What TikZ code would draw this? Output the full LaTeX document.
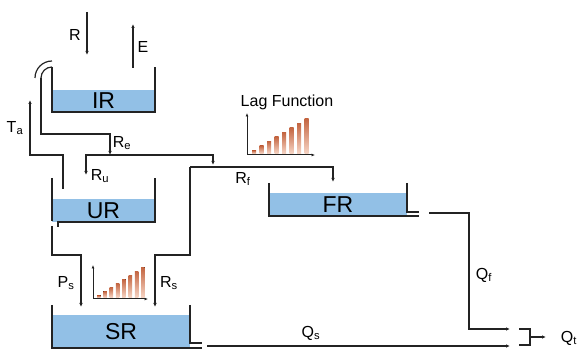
\documentclass[tikz,border=0pt]{standalone}
\usepackage{fontspec}
\setmainfont{Liberation Sans}
\usetikzlibrary{arrows.meta}
\definecolor{waterblue}{RGB}{146,192,230}
\definecolor{barlight}{RGB}{246,212,196}
\definecolor{bardark}{RGB}{196,102,66}
\definecolor{pipegray}{RGB}{35,35,35}

\begin{document}
\begin{tikzpicture}[x=1pt, y=-1pt,
  wall/.style={draw=pipegray, line width=2pt},
  water/.style={rectangle, fill=waterblue, draw=none, inner sep=0pt, font=\fontsize{23}{23}\selectfont},
  pipe/.style={draw=pipegray, line width=1.2pt},
  flow/.style={pipe, -{Latex[length=4pt,width=3.5pt]}},
  axis/.style={draw=pipegray, line width=1pt, {Latex[length=3.5pt,width=3pt]}-{Latex[length=3.5pt,width=3pt]}},
  lbl/.style={font=\fontsize{16}{16}\selectfont, inner sep=1pt},
  bar/.style={top color=bardark, bottom color=barlight}
]
\useasboundingbox (0,0) rectangle (581,352);

% reservoirs
\node[water, minimum width=103pt, minimum height=22pt] (IR) at (103.5,101) {IR};
\node[water, minimum width=103pt, minimum height=23pt] (UR) at (103.5,210.5) {UR};
\node[water, minimum width=138pt, minimum height=33pt] (SR) at (121,331.5) {SR};
\node[water, minimum width=138pt, minimum height=23pt] (FR) at (338,204.5) {FR};

\draw[wall] (52,67) |- (155,112) -- (155,67);
\draw[wall] (52,178) -- (52,221);
\draw[wall] (58,227) -- (58,222) -- (155,222) -- (155,178);
\draw[wall] (52,305) |- (202,348);
\draw[wall] (190,305) |- (202,343);
\draw[wall] (269,183) |- (419,216);
\draw[wall] (407,183) |- (419,212);

% overflow bend
\draw[pipe] (35,78) arc[start angle=180, end angle=270, radius=17];
\draw[pipe] (41,78) arc[start angle=180, end angle=270, radius=11];

% named points
\coordinate (rain) at (87,12);
\coordinate (rainin) at (87,55);
\coordinate (evap) at (133,68);
\coordinate (evapout) at (133,24);
\coordinate (spill) at (41,78);
\coordinate (resplit) at (110,155);
\coordinate (tatop) at (30,100);
\coordinate (tabase) at (63,189);
\coordinate (ruin) at (86,175);
\coordinate (rfjoin) at (213,165);
\coordinate (rfsplit) at (190,167);
\coordinate (frin) at (333,182);
\coordinate (urout) at (52,226);
\coordinate (srin) at (81,307);
\coordinate (rsin) at (155,307);
\coordinate (frout) at (429,213);
\coordinate (srout) at (207,346);
\coordinate (qfend) at (510,329);
\coordinate (qsend) at (510,346);
\coordinate (qtstart) at (530,337);
\coordinate (qtend) at (546,337);

% fluxes
\draw[flow] (rain) -- (rainin);
\draw[flow] (evap) -- (evapout);
\draw[flow] (tabase) |- (30,155) -- (tatop);
\draw[flow] (spill) |- (110,134) -- (resplit);
\draw[flow] (resplit) -| (ruin);
\draw[flow] (resplit) -| (rfjoin);
\draw[flow] (rfsplit) -| (frin);
\draw[flow] (rfsplit) |- (155,255) -- (rsin);
\draw[flow] (urout) |- (81,255) -- (srin);
\draw[flow] (frout) -| (469,329) -- (qfend);
\draw[flow] (srout) -- (qsend);
\draw[pipe] (519,329) -| (530,345) -- (519,345);
\draw[flow] (qtstart) -- (qtend);

% labels
\node[lbl] (rlbl) at (75,35) {R};
\node[lbl] (elbl) at (143,47) {E};
\node[lbl] (talbl) at (15,128) {T\textsubscript{a}};
\node[lbl] (relbl) at (122,143) {R\textsubscript{e}};
\node[lbl] (rulbl) at (100,176) {R\textsubscript{u}};
\node[lbl] (rflbl) at (243,179) {R\textsubscript{f}};
\node[lbl] (pslbl) at (66,283) {P\textsubscript{s}};
\node[lbl] (rslbl) at (169,283) {R\textsubscript{s}};
\node[lbl] (qflbl) at (484,275) {Q\textsubscript{f}};
\node[lbl] (qslbl) at (311,333) {Q\textsubscript{s}};
\node[lbl] (qtlbl) at (569,338) {Q\textsubscript{t}};
\node[lbl] (laglbl) at (287,102) {Lag Function};

% lag function, routing to FR
\draw[axis] (247,113) |- (315,155);
\fill[bar] (252,153.5) rectangle (256,150.5);
\fill[bar] (259.5,153.5) rectangle (263.5,146);
\fill[bar] (267,153.5) rectangle (271,141.5);
\fill[bar] (274.5,153.5) rectangle (278.5,137);
\fill[bar] (282,153.5) rectangle (286,132.5);
\fill[bar] (289.5,153.5) rectangle (293.5,128);
\fill[bar] (297,153.5) rectangle (301,123.5);
\fill[bar] (304.5,153.5) rectangle (308.5,119);

% lag function, routing to SR
\draw[axis] (93,265) |- (148,299);
\fill[bar] (97,297.5) rectangle (100.5,295.5);
\fill[bar] (103.3,297.5) rectangle (106.8,291.5);
\fill[bar] (109.6,297.5) rectangle (113.1,287.5);
\fill[bar] (115.9,297.5) rectangle (119.4,283.5);
\fill[bar] (122.2,297.5) rectangle (125.7,279.5);
\fill[bar] (128.5,297.5) rectangle (132,275.5);
\fill[bar] (134.8,297.5) rectangle (138.3,271.5);
\fill[bar] (141.1,297.5) rectangle (144.6,267.5);
\end{tikzpicture}
\end{document}
